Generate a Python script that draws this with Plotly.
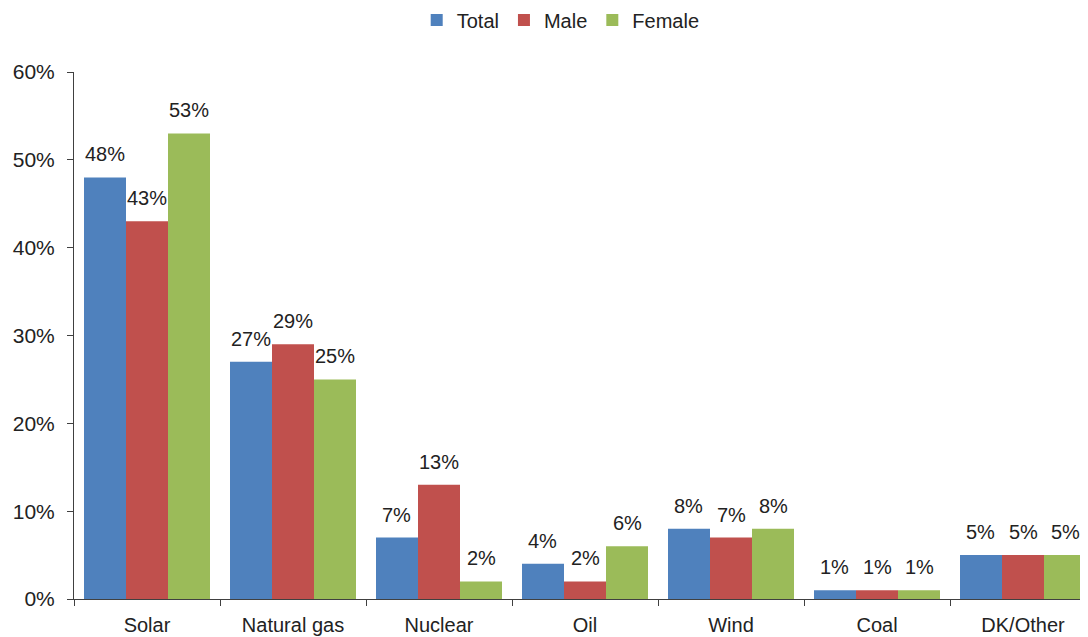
import plotly.graph_objects as go

categories = ["Solar", "Natural gas", "Nuclear", "Oil", "Wind", "Coal", "DK/Other"]
total = [48, 27, 7, 4, 8, 1, 5]
male = [43, 29, 13, 2, 7, 1, 5]
female = [53, 25, 2, 6, 8, 1, 5]

series = [("Total", total, "#4F81BD"), ("Male", male, "#C0504D"), ("Female", female, "#9BBB59")]

FONT = "Liberation Sans, Arial, sans-serif"
FS = 21
LFS = 20

fig = go.Figure()
for name, vals, col in series:
    fig.add_trace(go.Bar(
        x=categories, y=vals, name=name,
        marker=dict(color=col, line=dict(width=0)),
    ))

# data labels
bar_w = 42.2
annotations = []
for i, (name, vals, col) in enumerate(series):
    for c, v in zip(categories, vals):
        annotations.append(dict(
            x=c, y=v, xref="x", yref="y", text=f"{v}%",
            showarrow=False, xanchor="center", yanchor="bottom",
            xshift=(i - 1) * bar_w, yshift=10,
            font=dict(family=FONT, size=LFS, color="#222222"),
        ))

fig.update_layout(
    width=1088, height=637,
    barmode="group", bargap=0.137, bargroupgap=0,
    plot_bgcolor="white", paper_bgcolor="white",
    margin=dict(l=66, r=0, t=64, b=46, autoexpand=False),
    font=dict(family=FONT, size=FS, color="#222222"),
    showlegend=True,
    legend=dict(orientation="h", xref="container", x=0.508, xanchor="center",
                yref="container", y=0.981, yanchor="middle",
                font=dict(family=FONT, size=LFS, color="#222222"),
                itemwidth=30, tracegroupgap=0, traceorder="normal"),
    annotations=annotations,
)
fig.update_xaxes(
    type="category", range=[-0.5, 6.5], automargin=False,
    showline=True, linecolor="#404040", linewidth=1,
    ticks="outside", tickson="boundaries", ticklen=6, tickcolor="#404040",
    ticklabelstandoff=8,
    showgrid=False, tickfont=dict(family=FONT, size=LFS, color="#222222"),
)
fig.update_yaxes(
    range=[0, 60], tickvals=[0, 10, 20, 30, 40, 50, 60], automargin=False,
    ticktext=["0%", "10%", "20%", "30%", "40%", "50%", "60%"],
    showline=True, linecolor="#404040", linewidth=1,
    ticks="outside", ticklen=6, tickcolor="#404040",
    ticklabelstandoff=8,
    showgrid=False, zeroline=False,
    tickfont=dict(family=FONT, size=FS, color="#222222"),
)

fig.write_html("out.html")
